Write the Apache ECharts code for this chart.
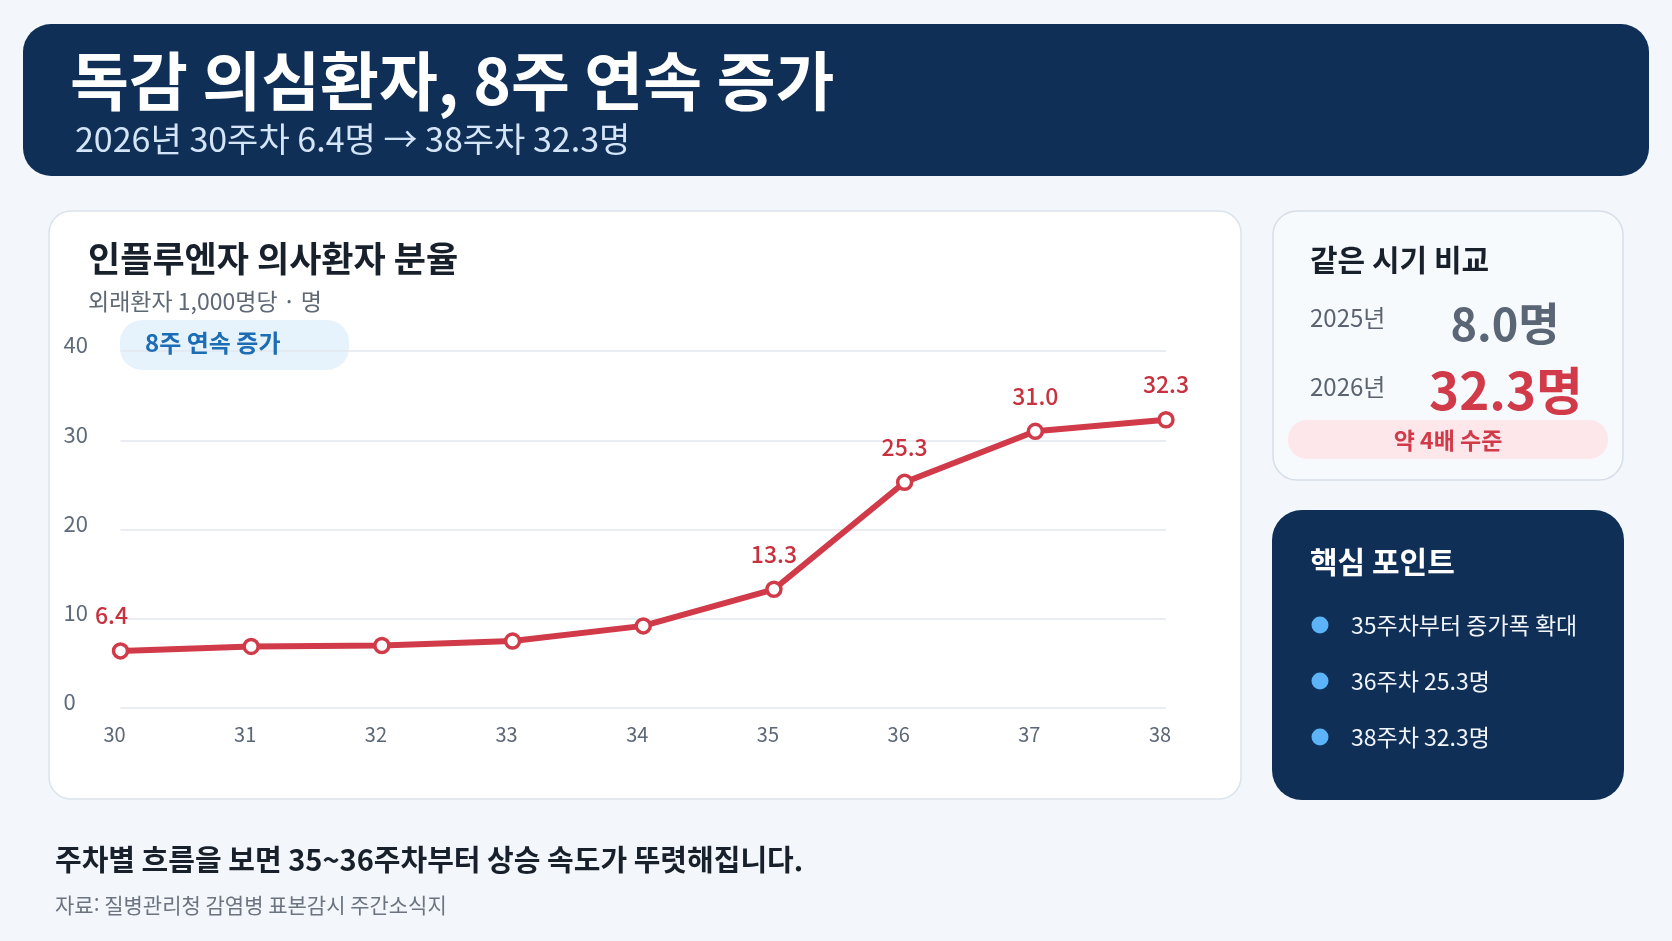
<!DOCTYPE html>
<html lang="ko">
<head>
<meta charset="utf-8">
<title>독감 의심환자, 8주 연속 증가</title>
<script src="https://cdn.jsdelivr.net/npm/echarts@6/dist/echarts.min.js"></script>
<style>
  html, body { margin: 0; padding: 0; background: #f3f7fb; }
  #main { width: 1672px; height: 941px; }
</style>
</head>
<body>
<div id="main"></div>
<script>
// 주차별 인플루엔자 의사환자 분율 (외래환자 1,000명당)
var weeks = ['30', '31', '32', '33', '34', '35', '36', '37', '38'];
var rates = [6.4, 6.9, 7.0, 7.5, 9.2, 13.3, 25.3, 31.0, 32.3];
var labeledWeeks = ['30', '35', '36', '37', '38'];
var yMin = 0, yMax = 40, yStep = 10;

var compareYears = ['2025년', '2026년'];
var compareValues = ['8.0명', '32.3명'];
var points = ['35주차부터 증가폭 확대', '36주차 25.3명', '38주차 32.3명'];

var FONT = '"Noto Sans CJK KR", "Noto Sans", sans-serif';
var RED = '#d13a48';
var NAVY = '#0f2f57';

function txt(x, y, s, size, weight, color, align) {
    return {
        type: 'text', x: x, y: y, z: 5,
        style: {
            text: s, fontSize: size, fontWeight: weight, fontFamily: FONT,
            fill: color, textAlign: align || 'left', textVerticalAlign: 'middle'
        }
    };
}
function box(x, y, w, h, r, fill, stroke) {
    return {
        type: 'rect', z: -5,
        shape: { x: x, y: y, width: w, height: h, r: r },
        style: { fill: fill, stroke: stroke || null, lineWidth: stroke ? 1.5 : 0 }
    };
}

var elements = [
    // 상단 헤더
    box(23, 24, 1626, 152, 28, NAVY),
    txt(70, 81, '독감 의심환자, 8주 연속 증가', 64, 'bold', '#ffffff'),
    txt(75, 139, '2026년 30주차 6.4명 → 38주차 32.3명', 34, 'normal', '#d4e5f7'),

    // 차트 카드
    box(49, 211, 1192, 588, 22, '#ffffff', '#dbe3ec'),
    txt(88, 259, '인플루엔자 의사환자 분율', 35, 'bold', '#17202b'),
    txt(88, 301, '외래환자 1,000명당 · 명', 23, 'normal', '#5f6875'),
    box(120, 320, 229, 50, 22, '#e6f3fd'),
    txt(145, 343, '8주 연속 증가', 24, 'bold', '#1d6db5'),

    // 같은 시기 비교
    box(1273, 211, 350, 269, 24, '#f7fafd', '#d6dee8'),
    txt(1310, 260, '같은 시기 비교', 30, 'bold', '#17202b'),
    txt(1310, 318, compareYears[0], 24, 'normal', '#5a6470'),
    txt(1505, 324, compareValues[0], 45, 'bold', '#5a6575', 'center'),
    txt(1310, 387, compareYears[1], 24, 'normal', '#5a6470'),
    txt(1506, 391, compareValues[1], 51, 'bold', RED, 'center'),
    box(1288, 420, 320, 39, 19, '#fde7ea'),
    txt(1448, 440, '약 4배 수준', 23, 'bold', RED, 'center'),

    // 핵심 포인트
    box(1272, 510, 352, 290, 30, NAVY),
    txt(1310, 562, '핵심 포인트', 30, 'bold', '#ffffff'),

    // 하단 설명
    txt(55, 860, '주차별 흐름을 보면 35~36주차부터 상승 속도가 뚜렷해집니다.', 29, 'bold', '#17202b'),
    txt(55, 905, '자료: 질병관리청 감염병 표본감시 주간소식지', 21, 'normal', '#6b7480')
];

points.forEach(function (p, i) {
    var y = 625 + i * 56;
    elements.push({
        type: 'circle', z: 5,
        shape: { cx: 1320, cy: y, r: 8.5 },
        style: { fill: '#5cb3f8' }
    });
    elements.push(txt(1351, y, p, 23, 'normal', '#f2f6fb'));
});

var chart = echarts.init(document.getElementById('main'));

var option = {
    backgroundColor: '#f3f7fb',
    animation: false,
    textStyle: { fontFamily: FONT },
    graphic: { elements: elements },
    grid: {
        left: 120.5,
        right: 506,
        top: 351,
        bottom: 233
    },
    xAxis: {
        type: 'category',
        data: weeks,
        boundaryGap: false,
        axisLine: { show: false },
        axisTick: { show: false },
        axisLabel: {
            color: '#5b6676',
            fontSize: 20,
            margin: 16,
            padding: [0, 12, 0, 0]
        }
    },
    yAxis: {
        type: 'value',
        min: yMin,
        max: yMax,
        interval: yStep,
        axisLine: { show: false },
        axisTick: { show: false },
        axisLabel: {
            color: '#5f6b7a',
            fontSize: 22,
            align: 'left',
            margin: 57,
            verticalAlign: 'bottom',
            lineHeight: 12
        },
        splitLine: {
            lineStyle: { color: '#e3e7ed', width: 1.5 }
        }
    },
    series: [{
        type: 'line',
        data: rates.map(function (v, i) {
            return {
                value: v,
                label: {
                    show: labeledWeeks.indexOf(weeks[i]) >= 0,
                    offset: i === 0 ? [-9, 0] : [0, 0]
                }
            };
        }),
        symbol: 'circle',
        symbolSize: 14,
        lineStyle: { color: RED, width: 6 },
        itemStyle: { color: '#ffffff', borderColor: RED, borderWidth: 3.5 },
        label: {
            position: 'top',
            distance: 15,
            color: '#c8323f',
            fontSize: 23,
            fontWeight: 500,
            formatter: function (p) { return p.value.toFixed(1); }
        }
    }]
};

chart.setOption(option);
</script>
</body>
</html>
